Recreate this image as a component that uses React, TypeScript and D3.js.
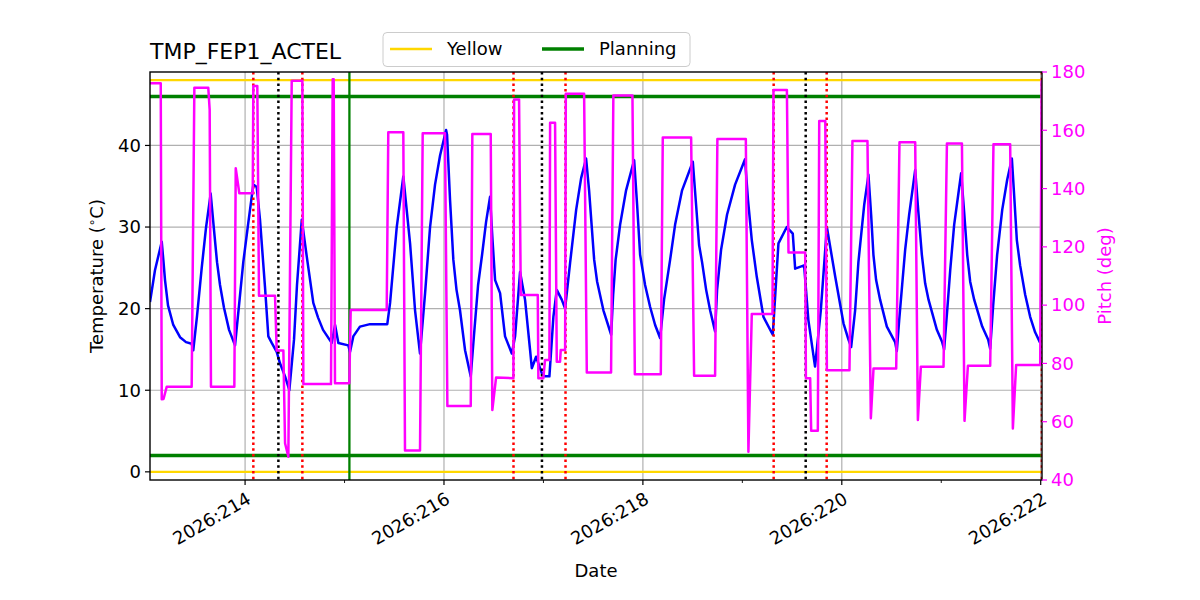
import React from "react";
import * as d3 from "d3";

// ---------------- data (day-of-year 2026, value) ----------------
const tempSeries: [number, number][] = [
  [213.044, 20.8], [213.094, 24.7], [213.162, 28.2], [213.180, 25.7], [213.195, 23.5],
  [213.225, 20.4], [213.278, 18.0], [213.346, 16.5], [213.406, 15.9], [213.463, 15.7],
  [213.479, 14.9], [213.517, 19.1], [213.564, 25.0], [213.607, 29.9], [213.654, 34.1],
  [213.688, 29.6], [213.718, 25.7], [213.748, 22.9], [213.788, 20.1], [213.839, 17.4],
  [213.899, 15.5], [213.939, 20.4], [213.982, 25.7], [214.030, 30.3], [214.083, 35.2],
  [214.117, 34.9], [214.150, 30.9], [214.200, 22.7], [214.234, 16.6], [214.268, 15.8],
  [214.318, 14.7], [214.351, 13.3], [214.402, 11.7], [214.445, 10.0], [214.492, 16.2],
  [214.522, 22.9], [214.548, 27.2], [214.570, 30.9], [214.620, 26.4], [214.686, 20.7],
  [214.734, 18.9], [214.784, 17.4], [214.871, 15.8], [214.905, 18.0], [214.938, 15.8],
  [215.038, 15.5], [215.055, 14.7], [215.088, 16.6], [215.155, 17.8], [215.256, 18.1],
  [215.430, 18.1], [215.458, 20.7], [215.525, 30.0], [215.591, 36.2], [215.659, 28.0],
  [215.709, 19.8], [215.759, 14.5], [215.810, 21.9], [215.860, 30.0], [215.910, 35.2],
  [215.961, 38.8], [216.021, 41.9], [216.031, 41.3], [216.061, 33.3], [216.094, 26.0],
  [216.126, 22.3], [216.161, 19.8], [216.212, 14.9], [216.269, 11.7], [216.302, 16.8],
  [216.343, 22.9], [216.383, 26.6], [216.423, 30.6], [216.463, 33.7], [216.488, 28.4],
  [216.514, 23.5], [216.564, 21.9], [216.614, 16.6], [216.682, 14.5], [216.715, 16.6],
  [216.765, 24.5], [216.815, 21.1], [216.866, 14.9], [216.883, 12.7], [216.926, 14.1],
  [216.983, 12.1], [217.016, 11.7], [217.060, 11.7], [217.100, 19.0], [217.134, 22.3],
  [217.184, 21.1], [217.218, 20.0], [217.268, 25.6], [217.329, 32.1], [217.379, 36.0],
  [217.429, 38.4], [217.459, 34.5], [217.486, 30.0], [217.510, 26.0], [217.540, 23.3],
  [217.603, 19.8], [217.681, 16.8], [217.701, 21.7], [217.726, 26.0], [217.771, 30.3],
  [217.831, 34.5], [217.912, 38.2], [217.942, 32.7], [217.972, 26.6], [218.022, 22.9],
  [218.073, 20.2], [218.123, 18.0], [218.173, 16.4], [218.213, 21.1], [218.274, 26.0],
  [218.324, 30.3], [218.394, 34.5], [218.502, 38.0], [218.535, 32.7], [218.565, 27.8],
  [218.595, 25.7], [218.636, 22.3], [218.676, 19.8], [218.726, 17.2], [218.746, 22.3],
  [218.786, 27.2], [218.846, 31.5], [218.927, 35.2], [219.027, 38.3], [219.057, 33.3],
  [219.095, 28.4], [219.145, 23.9], [219.212, 19.0], [219.306, 16.8], [219.363, 28.0],
  [219.447, 30.0], [219.507, 29.2], [219.531, 24.9], [219.621, 25.3], [219.664, 18.6],
  [219.731, 12.9], [219.789, 19.8], [219.850, 30.0], [219.934, 23.9], [220.017, 18.2],
  [220.067, 16.2], [220.094, 15.3], [220.134, 19.8], [220.167, 25.7], [220.225, 32.7],
  [220.268, 36.4], [220.295, 31.5], [220.318, 26.6], [220.345, 23.5], [220.385, 21.1],
  [220.453, 17.8], [220.536, 15.9], [220.553, 14.8], [220.577, 18.6], [220.607, 22.9],
  [220.637, 27.2], [220.677, 31.5], [220.738, 37.0], [220.768, 32.1], [220.805, 26.6],
  [220.838, 23.1], [220.872, 21.1], [220.956, 17.4], [221.009, 15.9], [221.029, 15.0],
  [221.060, 19.8], [221.090, 24.7], [221.130, 30.3], [221.170, 33.9], [221.200, 36.6],
  [221.231, 31.7], [221.261, 26.6], [221.291, 23.3], [221.331, 21.1], [221.412, 17.8],
  [221.472, 16.2], [221.492, 15.1], [221.522, 20.4], [221.562, 26.6], [221.613, 32.1],
  [221.663, 35.8], [221.710, 38.4], [221.733, 33.9], [221.760, 28.4], [221.793, 25.3],
  [221.844, 21.7], [221.894, 19.0], [221.944, 17.1], [221.995, 15.8],
];

const pitchSeries: [number, number][] = [
  [213.044, 176.1], [213.152, 176.1], [213.162, 67.7], [213.180, 67.8], [213.212, 72.0],
  [213.463, 72.0], [213.490, 174.6], [213.630, 174.6], [213.644, 167.0], [213.657, 72.0],
  [213.892, 72.0], [213.906, 147.0], [213.942, 138.4], [214.077, 138.4], [214.083, 175.2],
  [214.123, 175.2], [214.140, 103.2], [214.301, 103.2], [214.318, 84.4], [214.385, 84.4],
  [214.402, 52.6], [214.435, 48.0], [214.469, 177.0], [214.576, 177.0], [214.586, 72.9],
  [214.864, 72.9], [214.881, 177.5], [214.891, 177.5], [214.904, 73.2], [215.048, 73.2],
  [215.062, 98.3], [215.424, 98.3], [215.440, 159.3], [215.591, 159.3], [215.608, 50.1],
  [215.759, 50.1], [215.786, 159.0], [216.010, 159.0], [216.034, 65.4], [216.269, 65.4],
  [216.285, 158.7], [216.470, 158.7], [216.486, 64.0], [216.524, 75.2], [216.698, 74.9],
  [216.705, 170.6], [216.755, 170.6], [216.772, 103.5], [216.943, 103.5], [216.949, 74.9],
  [216.999, 74.9], [217.016, 81.2], [217.060, 81.2], [217.067, 162.6], [217.117, 162.6],
  [217.134, 80.6], [217.167, 80.6], [217.174, 84.6], [217.218, 84.6], [217.225, 172.5],
  [217.409, 172.5], [217.436, 76.9], [217.680, 76.9], [217.703, 171.9], [217.895, 171.9],
  [217.919, 76.3], [218.180, 76.3], [218.200, 157.5], [218.485, 157.5], [218.515, 75.8],
  [218.726, 75.8], [218.749, 157.0], [219.035, 157.0], [219.061, 49.7], [219.095, 97.0],
  [219.303, 97.0], [219.313, 173.8], [219.448, 173.8], [219.464, 118.1], [219.632, 118.1],
  [219.639, 74.9], [219.682, 74.9], [219.692, 56.9], [219.759, 56.9], [219.773, 163.2],
  [219.834, 163.2], [219.850, 77.7], [220.077, 77.7], [220.107, 156.3], [220.258, 156.3],
  [220.292, 61.2], [220.319, 78.3], [220.547, 78.3], [220.580, 155.9], [220.738, 155.9],
  [220.765, 60.6], [220.795, 78.9], [221.023, 78.9], [221.057, 155.5], [221.208, 155.5],
  [221.234, 60.3], [221.268, 79.2], [221.492, 79.2], [221.525, 155.2], [221.693, 155.2],
  [221.720, 57.7], [221.753, 79.5], [221.995, 79.5], [222.010, 177.3],
];

const yellowLimits = [0, 48];
const planningLimits = [2, 46];
const redEvents = [214.083, 214.576, 216.699, 217.222, 219.315, 219.848, 222.012];
const blackEvents = [214.335, 216.985, 219.637];
const greenEvents = [215.049];

const xDomain = [213.044, 222.013];
const xMajorTicks = [214, 216, 218, 220, 222];
const xTickLabels = ["2026:214", "2026:216", "2026:218", "2026:220", "2026:222"];
const xMinorTicks = [215, 217, 219, 221];
const tempTicks = [0, 10, 20, 30, 40];
const pitchTicks = [40, 60, 80, 100, 120, 140, 160, 180];

const title = "TMP_FEP1_ACTEL";
const legendItems = [
  { label: "Yellow", color: "#FFD700" },
  { label: "Planning", color: "green" },
];

// ---------------- layout ----------------
const W = 1200, H = 600;
const L = 150, R = 1042, T = 72, B = 480;
const FONT = "DejaVu Sans, sans-serif";

export default function App() {
  const x = d3.scaleLinear().domain(xDomain).range([L, R]);
  const yT = d3.scaleLinear().domain([-1, 49]).range([B, T]);
  const yP = d3.scaleLinear().domain([40, 180]).range([B, T]);

  const tempLine = d3.line<[number, number]>().x((d) => x(d[0])).y((d) => yT(d[1]));
  const pitchLine = d3.line<[number, number]>().x((d) => x(d[0])).y((d) => yP(d[1]));

  const tickFs = 18;

  return (
    <svg width={W} height={H} style={{ position: "absolute", left: 0, top: 0, background: "#fff" }} fontFamily={FONT}>
      <defs>
        <clipPath id="plotclip">
          <rect x={L} y={T} width={R - L} height={B - T} />
        </clipPath>
      </defs>
      <rect x={0} y={0} width={W} height={H} fill="#fff" />

      {/* grid */}
      <g stroke="#b0b0b0" strokeWidth={1.2}>
        {xMajorTicks.map((t) => (
          <line key={"gx" + t} x1={x(t)} x2={x(t)} y1={T} y2={B} />
        ))}
        {tempTicks.map((t) => (
          <line key={"gy" + t} x1={L} x2={R} y1={yT(t)} y2={yT(t)} />
        ))}
      </g>

      <g clipPath="url(#plotclip)">
        {yellowLimits.map((v) => (
          <line key={"yl" + v} x1={L} x2={R} y1={yT(v)} y2={yT(v)} stroke="#FFD700" strokeWidth={2.3} />
        ))}
        {planningLimits.map((v) => (
          <line key={"pl" + v} x1={L} x2={R} y1={yT(v)} y2={yT(v)} stroke="green" strokeWidth={3.3} />
        ))}
        {greenEvents.map((v) => (
          <line key={"ge" + v} x1={x(v)} x2={x(v)} y1={T} y2={B} stroke="green" strokeWidth={2.3} />
        ))}
        <path d={tempLine(tempSeries) || ""} fill="none" stroke="#0000FF" strokeWidth={2.5} strokeLinejoin="round" />
        {redEvents.map((v) => (
          <line key={"re" + v} x1={x(v)} x2={x(v)} y1={T} y2={B} stroke="#FF0000" strokeWidth={2.5} strokeDasharray="2.5,3.2" />
        ))}
        {blackEvents.map((v) => (
          <line key={"be" + v} x1={x(v)} x2={x(v)} y1={T} y2={B} stroke="#000" strokeWidth={2.5} strokeDasharray="2.5,3.2" />
        ))}
        <path d={pitchLine(pitchSeries) || ""} fill="none" stroke="#FF00FF" strokeWidth={2.5} strokeLinejoin="round" />
      </g>

      {/* spines */}
      <rect x={L} y={T} width={R - L} height={B - T} fill="none" stroke="#000" strokeWidth={1.4} />

      {/* x ticks */}
      <g>
        {xMajorTicks.map((t, i) => (
          <g key={"xt" + t}>
            <line x1={x(t)} x2={x(t)} y1={B} y2={B + 5} stroke="#000" strokeWidth={1.2} />
            <text
              x={x(t)}
              y={B + 10}
              fontSize={tickFs}
              textAnchor="end"
              dy="0.8em"
              transform={`rotate(-30, ${x(t)}, ${B + 10})`}
              fill="#000"
            >
              {xTickLabels[i]}
            </text>
          </g>
        ))}
        {xMinorTicks.map((t) => (
          <line key={"xm" + t} x1={x(t)} x2={x(t)} y1={B} y2={B + 3} stroke="#000" strokeWidth={0.9} />
        ))}
      </g>

      {/* left ticks */}
      <g>
        {tempTicks.map((t) => (
          <g key={"yt" + t}>
            <line x1={L - 5} x2={L} y1={yT(t)} y2={yT(t)} stroke="#000" strokeWidth={1.2} />
            <text x={L - 9} y={yT(t)} dy="0.35em" fontSize={tickFs} textAnchor="end" fill="#000">
              {t}
            </text>
          </g>
        ))}
      </g>

      {/* right ticks */}
      <g>
        {pitchTicks.map((t) => (
          <g key={"pt" + t}>
            <line x1={R} x2={R + 5} y1={yP(t)} y2={yP(t)} stroke="#FF00FF" strokeWidth={1.2} />
            <text x={R + 9} y={yP(t)} dy="0.35em" fontSize={tickFs} textAnchor="start" fill="#FF00FF">
              {t}
            </text>
          </g>
        ))}
      </g>

      {/* axis labels */}
      <text x={(L + R) / 2} y={577} fontSize={tickFs} textAnchor="middle" fill="#000">
        Date
      </text>
      <text
        transform={`translate(103, ${(T + B) / 2}) rotate(-90)`}
        fontSize={tickFs}
        textAnchor="middle"
        fill="#000"
      >
        <tspan>Temperature (</tspan>
        <tspan fontSize={12} dy={-7}>∘</tspan>
        <tspan dy={7}>C)</tspan>
      </text>
      <text
        transform={`translate(1111, ${(T + B) / 2}) rotate(-90)`}
        fontSize={tickFs}
        textAnchor="middle"
        fill="#FF00FF"
      >
        Pitch (deg)
      </text>

      {/* title */}
      <text x={L} y={59} fontSize={22} fill="#000">
        {title}
      </text>

      {/* legend */}
      <g>
        <rect x={383} y={32.5} width={307} height={34} rx={4} ry={4} fill="#fff" fillOpacity={0.8} stroke="#cccccc" strokeWidth={1} />
        {legendItems.map((it, i) => {
          const x0 = i === 0 ? 390 : 542;
          return (
            <g key={it.label}>
              <line x1={x0} x2={x0 + 42} y1={49} y2={49} stroke={it.color} strokeWidth={i === 0 ? 2.3 : 3.3} />
              <text x={x0 + 57} y={49} dy="0.35em" fontSize={tickFs} fill="#000">
                {it.label}
              </text>
            </g>
          );
        })}
      </g>
    </svg>
  );
}
